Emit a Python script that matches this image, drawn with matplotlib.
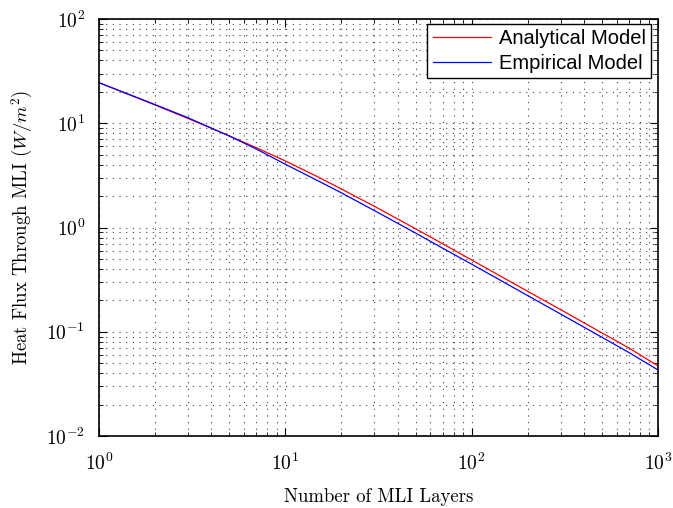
import numpy as np
import matplotlib
matplotlib.use("Agg")
import matplotlib.pyplot as plt

# values (log-log)
layers = [1, 2, 3, 5, 7, 10, 15, 20, 30, 50, 70, 100, 200, 300, 500, 700, 1000]
analytical = [24.5, 14.96, 11.12, 7.57, 5.82, 4.35, 3.05, 2.34, 1.60, 0.973, 0.697, 0.488,
              0.244, 0.163, 0.0975, 0.0697, 0.047]
empirical = [24.5, 15.1, 11.3, 7.55, 5.65, 4.04, 2.80, 2.15, 1.455, 0.885, 0.632, 0.445,
             0.222, 0.148, 0.0885, 0.0631, 0.043]

plt.rcParams['font.family'] = 'serif'
plt.rcParams['font.serif'] = ['cmr10']
plt.rcParams['mathtext.fontset'] = 'cm'
plt.rcParams['axes.formatter.use_mathtext'] = True

fig = plt.figure(figsize=(6.73, 5.08), dpi=100)
ax = fig.add_axes([99 / 673, 72 / 508, 559 / 673, 417 / 508])

ax.loglog(layers, analytical, color='red', lw=0.9, label='Analytical Model')
ax.loglog(layers, empirical, color='blue', lw=0.9, label='Empirical Model')

ax.set_xlim(1, 1000)
ax.set_ylim(0.01, 100)
ax.grid(True, which='both', ls=(0, (1, 5)), color='0.25', lw=0.8)
ax.tick_params(which='both', direction='in', top=True, right=True, labelsize=14)
ax.tick_params(axis='x', which='major', pad=12)
ax.tick_params(axis='y', which='major', pad=10)
ax.tick_params(which='major', length=6)
ax.tick_params(which='minor', length=3)
for s in ax.spines.values():
    s.set_linewidth(1.2)

ax.set_xlabel('Number of MLI Layers', fontsize=13.5, labelpad=10)
ax.set_ylabel(r'Heat Flux Through MLI ($W/m^2$)', fontsize=13.5, labelpad=8)

leg = ax.legend(loc='upper right', bbox_to_anchor=(1 - 7 / 559, 1 - 5 / 417),
                borderaxespad=0, fancybox=False, edgecolor='black', framealpha=1,
                prop={'family': 'Liberation Sans', 'size': 14.5},
                handlelength=2.9, handletextpad=0.4, borderpad=0.25, labelspacing=0.3)
leg.get_frame().set_linewidth(1.0)

fig.savefig('out.png', dpi=100)
